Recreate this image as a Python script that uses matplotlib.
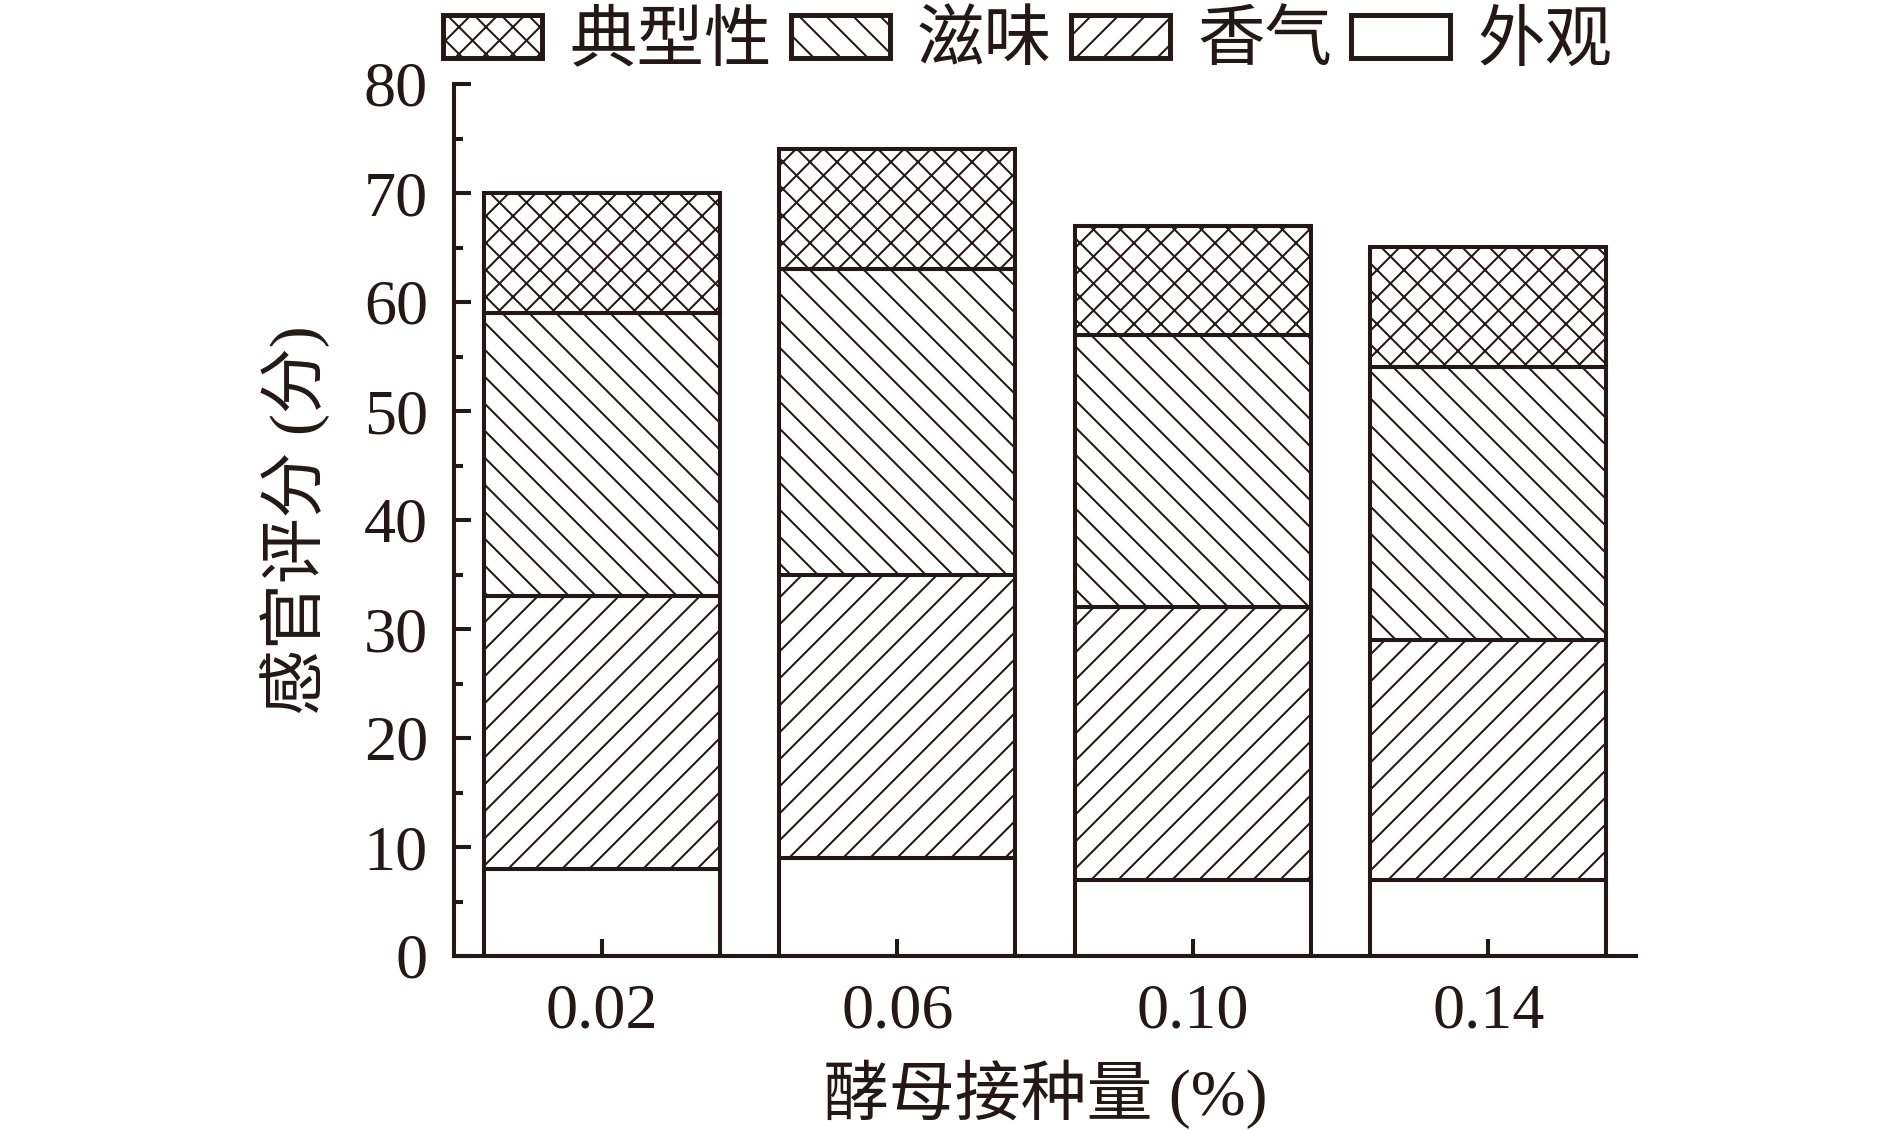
import matplotlib
matplotlib.use("Agg")
import matplotlib.pyplot as plt
import numpy as np

categories = ["0.02", "0.06", "0.10", "0.14"]
appearance = [8, 9, 7, 7]      # 外观
aroma = [25, 26, 25, 22]       # 香气
taste = [26, 28, 25, 25]       # 滋味
typicality = [11, 11, 10, 11]  # 典型性

series_names = ["外观", "香气", "滋味", "典型性"]
hatches = ["", "//", "\\\\", "xx"]

DPI = 162
plt.rcParams['hatch.linewidth'] = 0.9
plt.rcParams['font.family'] = ['Liberation Serif', 'Noto Sans CJK SC']

fig = plt.figure(figsize=(1890 / DPI, 1130 / DPI), dpi=DPI)
ax = fig.add_axes([454 / 1890, 1 - 956 / 1130, (1636 - 454) / 1890, (956 - 84) / 1130])

x = np.arange(len(categories))
data = [appearance, aroma, taste, typicality]
bottom = np.zeros(len(categories))
handles = []
for name, vals, h in zip(series_names, data, hatches):
    bars = ax.bar(x, vals, width=0.8, bottom=bottom, color="white",
                  edgecolor="#231815", linewidth=1.8, hatch=h, label=name)
    handles.append(bars)
    bottom += np.array(vals)

ax.set_xlim(-0.5, 3.5)
ax.set_ylim(0, 80)
ax.set_xticks(x)
ax.set_xticklabels(categories)
ax.set_yticks(np.arange(0, 81, 10))
ax.set_yticks(np.arange(5, 80, 10), minor=True)

for s in ["top", "right"]:
    ax.spines[s].set_visible(False)
for s in ["left", "bottom"]:
    ax.spines[s].set_linewidth(1.8)
    ax.spines[s].set_color("#231815")

ax.tick_params(axis="both", which="major", direction="in", length=7.6, width=1.8,
               labelsize=28.5, color="#231815", labelcolor="#231815")
ax.tick_params(axis="y", which="minor", direction="in", length=4.0, width=1.8, color="#231815")
ax.tick_params(axis="x", which="major", pad=12.4)
ax.tick_params(axis="y", which="major", pad=11.6)

ax.set_xlabel("酵母接种量 (%)", fontsize=29.3, color="#231815", labelpad=8)
ax.set_ylabel("感官评分 (分)", fontsize=29.3, color="#231815", labelpad=15)

leg = fig.legend(handles[::-1], series_names[::-1], ncol=4, loc="center left",
                 bbox_to_anchor=(443 / 1890, 1 - 43 / 1130), frameon=False,
                 fontsize=30, handlelength=1.47, handleheight=0.6,
                 handletextpad=0.4, columnspacing=0.28, borderpad=0,
                 borderaxespad=0)
for t in leg.get_texts():
    t.set_color("#231815")
for p in leg.get_patches():
    p.set_linewidth(2.2)

fig.savefig("out.png", dpi=DPI)
